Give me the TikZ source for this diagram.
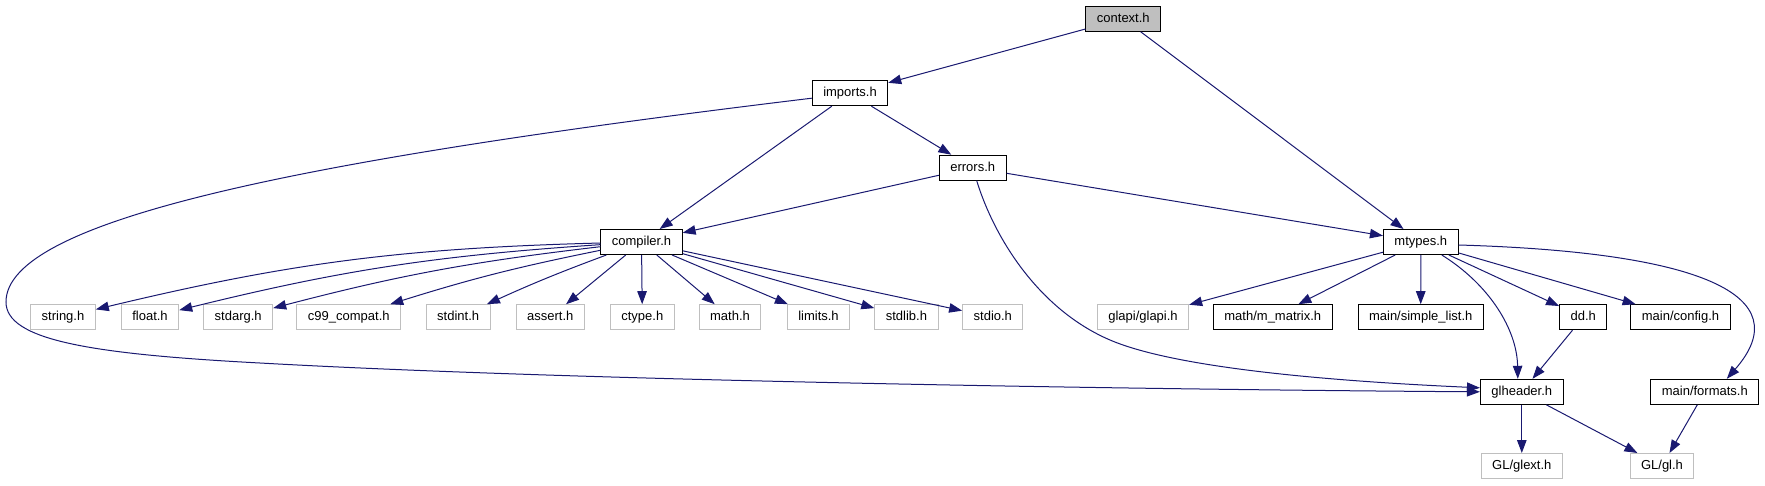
\documentclass[tikz,border=0pt]{standalone}
\usepackage{fontspec}
\setmainfont{Liberation Sans}
\usetikzlibrary{arrows.meta}

\definecolor{edgeblue}{HTML}{191970}
\definecolor{extgray}{HTML}{BFBFBF}

\tikzset{
  filebox/.style={rectangle, draw=black, fill=white, line width=1pt,
    minimum height=25pt, inner xsep=11pt, inner ysep=0pt,
    text height=9.4pt, text depth=2.6pt, font=\fontsize{13}{15}\selectfont},
  extbox/.style={filebox, draw=extgray},
  rootbox/.style={filebox, fill=extgray},
  dep/.style={draw=edgeblue, line width=1pt, -{Triangle[length=13pt, width=9.5pt]}}
}

\begin{document}
\begin{tikzpicture}[x=1pt, y=-1pt]
\useasboundingbox (0,0) rectangle (1765,485);

% headers of the project
\node[rootbox] (context) at (1123.3,18.7) {context.h};
\node[filebox] (imports) at (850,93.2) {imports.h};
\node[filebox] (errors) at (972.7,167.7) {errors.h};
\node[filebox] (compiler) at (641.5,242) {compiler.h};
\node[filebox] (mtypes) at (1420.8,242) {mtypes.h};
\node[filebox] (mmatrix) at (1272.8,317.2) {math/m\_matrix.h};
\node[filebox] (simplelist) at (1420.7,317.2) {main/simple\_list.h};
\node[filebox] (dd) at (1583.2,317.2) {dd.h};
\node[filebox] (config) at (1680.5,317.2) {main/config.h};
\node[filebox] (glheader) at (1521.8,391.8) {glheader.h};
\node[filebox] (formats) at (1704.8,391.8) {main/formats.h};

% system headers
\node[extbox] (string) at (63,317.2) {string.h};
\node[extbox] (float) at (150,317.2) {float.h};
\node[extbox] (stdarg) at (238.2,317.2) {stdarg.h};
\node[extbox] (c99) at (348.8,317.2) {c99\_compat.h};
\node[extbox] (stdint) at (458.2,317.2) {stdint.h};
\node[extbox] (assert) at (550.3,317.2) {assert.h};
\node[extbox] (ctype) at (642.3,317.2) {ctype.h};
\node[extbox] (math) at (730,317.2) {math.h};
\node[extbox] (limits) at (818.5,317.2) {limits.h};
\node[extbox] (stdlib) at (906.4,317.2) {stdlib.h};
\node[extbox] (stdio) at (992.8,317.2) {stdio.h};
\node[extbox] (glapi) at (1143,317.2) {glapi/glapi.h};
\node[extbox] (glext) at (1521.8,466) {GL/glext.h};
\node[extbox] (gl) at (1662,466) {GL/gl.h};

% includes
\draw[dep] (context) -- (imports);
\draw[dep] (context) -- (mtypes);
\draw[dep] (imports) -- (compiler);
\draw[dep] (imports) -- (errors);
\draw[dep] ([yshift=-5pt]imports.west) .. controls (300,160) and (6,220) .. (6,302)
  .. controls (6,340) and (90,354) .. (260,363)
  .. controls (600,382) and (1200,390) .. (glheader.west);
\draw[dep] (errors) -- (compiler);
\draw[dep] (errors) -- (mtypes);
\draw[dep] ([xshift=4pt]errors.south) .. controls (995,240) and (1040,310) .. (1110,340)
  .. controls (1180,370) and (1350,382) .. ([yshift=4pt]glheader.west);

\draw[dep] (compiler) to[bend right=6] (string);
\draw[dep] (compiler) to[bend right=5] (float);
\draw[dep] (compiler) to[bend right=4] (stdarg);
\draw[dep] (compiler) to[bend right=3] (c99);
\draw[dep] (compiler) to[bend right=2] (stdint);
\draw[dep] (compiler) -- (assert);
\draw[dep] (compiler) -- (ctype);
\draw[dep] (compiler) -- (math);
\draw[dep] (compiler) -- (limits);
\draw[dep] (compiler) -- (stdlib);
\draw[dep] (compiler) -- (stdio);

\draw[dep] (mtypes) -- (glapi);
\draw[dep] (mtypes) -- (mmatrix);
\draw[dep] (mtypes) -- (simplelist);
\draw[dep] ([xshift=21pt]mtypes.south) .. controls (1490,285) and (1517,330) .. ([xshift=-4pt]glheader.north);
\draw[dep] (mtypes) -- (dd);
\draw[dep] (mtypes) -- (config);
\draw[dep] ([yshift=-3pt]mtypes.east) .. controls (1700,252) and (1800,295) .. ([xshift=22pt]formats.north);

\draw[dep] (dd) -- (glheader);
\draw[dep] (glheader) -- (glext);
\draw[dep] (glheader) -- (gl);
\draw[dep] (formats) -- (gl);

\end{tikzpicture}
\end{document}
